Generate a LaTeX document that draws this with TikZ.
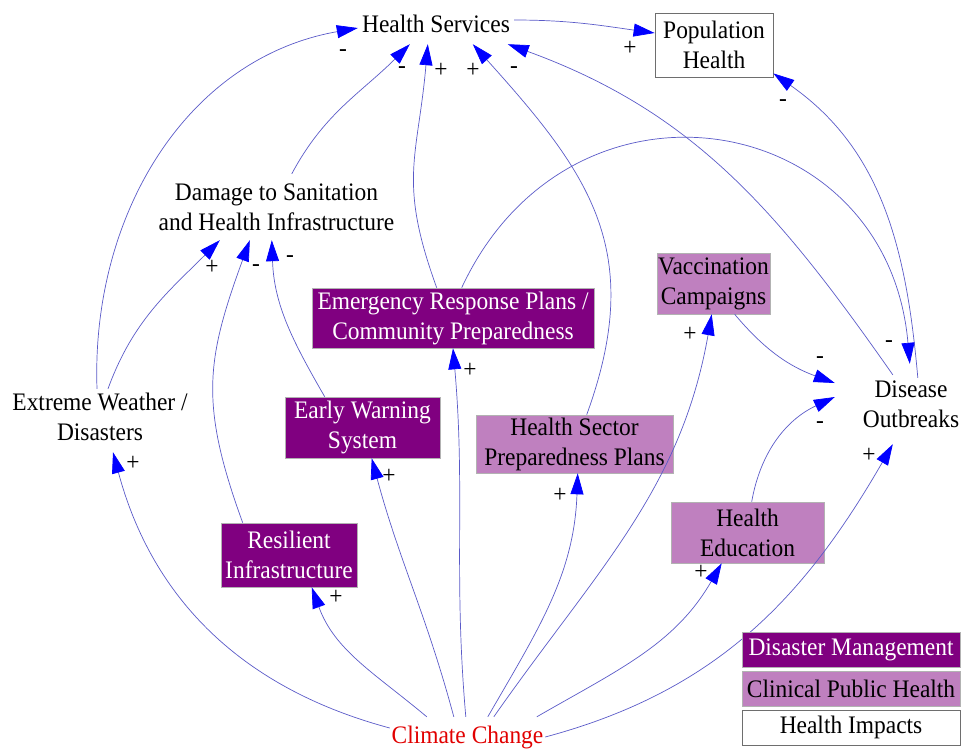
\documentclass[tikz,border=0pt]{standalone}
\usepackage{fontspec}
\setmainfont{Liberation Serif}[FakeStretch=0.93]
\usetikzlibrary{arrows.meta}
\definecolor{dmpurple}{RGB}{128,0,128}
\definecolor{cphpurple}{RGB}{191,128,191}
\definecolor{linkblue}{RGB}{90,90,200}
\definecolor{tipblue}{RGB}{0,0,255}
\definecolor{ccred}{RGB}{225,0,0}
\definecolor{boxgray}{RGB}{110,110,110}
\begin{document}
\begin{tikzpicture}[x=1pt,y=1pt,
  every node/.style={font=\fontsize{25.2}{30}\selectfont, align=center, inner sep=0pt},
  plain/.style={},
  impact/.style={draw=boxgray, line width=0.8pt, fill=white},
  disaster/.style={fill=dmpurple, draw=gray!60, line width=0.6pt, text=white},
  clinical/.style={fill=cphpurple, draw=gray!60, line width=0.6pt, text=black},
  link/.style={draw=linkblue, line width=0.7pt,
    -{Triangle[length=21pt,width=13pt,fill=tipblue,color=tipblue]}},
  pol/.style={}
]
\useasboundingbox (0,0) rectangle (963,-748);

% variables of the causal loop diagram
\node[plain, minimum width=156pt, minimum height=40pt] (hs) at (436,-24) {Health Services};
\node[impact, minimum width=118pt, minimum height=64pt] (ph) at (714,-45) {Population\\Health};
\node[plain, minimum width=243pt, minimum height=66pt] (dmg) at (276.5,-207) {Damage to Sanitation\\and Health Infrastructure};
\node[plain, minimum width=184pt, minimum height=55pt] (ew) at (100,-416.5) {Extreme Weather /\\Disasters};
\node[disaster, minimum width=282pt, minimum height=60pt] (erp) at (453,-318) {Emergency Response Plans /\\Community Preparedness};
\node[disaster, minimum width=155pt, minimum height=61pt] (ews) at (362.5,-427.5) {Early Warning\\System};
\node[clinical, minimum width=113pt, minimum height=61pt] (vc) at (713.5,-283.5) {Vaccination\\Campaigns};
\node[plain, minimum width=152pt, minimum height=80pt] (do) at (911,-404) {Disease\\Outbreaks};
\node[clinical, minimum width=197pt, minimum height=58pt] (hsp) at (574.5,-444) {Health Sector\\Preparedness Plans};
\node[clinical, minimum width=153pt, minimum height=61pt] (he) at (747.5,-532.5) {Health\\Education};
\node[disaster, minimum width=136pt, minimum height=64pt] (ri) at (289,-555) {Resilient\\Infrastructure};
\node[plain, text=ccred, minimum width=155pt, minimum height=40pt] (cc) at (467.5,-737) {Climate Change};

% causal links
\draw[link] ([xshift=-3pt]ew.north) to[out=92,in=190] ([yshift=-4pt]hs.west);
\draw[link] ([xshift=8pt]ew.north) to[out=70,in=225] ([xshift=65pt]dmg.south west);
\draw[link] ([xshift=22pt]ri.north west) to[out=110,in=250,looseness=1.15] ([xshift=95pt]dmg.south west);
\draw[link] ([xshift=40pt]ews.north west) to[out=120,in=272] ([xshift=117pt]dmg.south west);
\draw[link] ([xshift=137pt]dmg.north west) to[out=62,in=225] ([xshift=52pt]hs.south west);
\draw[link] ([xshift=125pt]erp.north west) to[out=110,in=265,looseness=1.2] ([xshift=70pt]hs.south west);
\draw[link] ([xshift=111pt]hsp.north west) to[out=70,in=-48,looseness=1.15] ([xshift=115pt]hs.south west);
\draw[link] ([xshift=58pt,yshift=-11pt]do.north west) to[out=125,in=-20] ([xshift=150pt]hs.south west);
\draw[link] ([yshift=4pt]hs.east) to[out=0,in=172] ([yshift=12pt]ph.west);
\draw[link] ([xshift=83pt,yshift=-14pt]do.north west) to[out=95,in=-35] ([yshift=4pt]ph.south east);
\draw[link] ([xshift=150pt]erp.north west) to[out=65,in=95,looseness=1.45] ([xshift=75pt]do.north west);
\draw[link] ([yshift=9pt]cc.west) to[out=165,in=-75] ([xshift=13pt,yshift=-8pt]ew.south);
\draw[link] ([xshift=37pt]cc.north west) to[out=140,in=-70] ([xshift=91pt]ri.south west);
\draw[link] ([xshift=64pt]cc.north west) to[out=105,in=-75] ([xshift=87pt]ews.south west);
\draw[link] ([xshift=76pt]cc.north west) to[out=95,in=-85] (erp.south);
\draw[link] ([xshift=98pt]cc.north west) to[out=60,in=-92] ([xshift=102pt]hsp.south west);
\draw[link] ([xshift=104pt]cc.north west) to[out=55,in=-100] ([xshift=55pt]vc.south west);
\draw[link] ([xshift=147pt]cc.north west) to[out=30,in=-120] ([xshift=51pt]he.south west);
\draw[link] (cc.east) to[out=15,in=-120] ([xshift=58pt]do.south west);
\draw[link] ([xshift=78pt]vc.south west) to[out=-50,in=160] ([yshift=21pt]do.west);
\draw[link] ([xshift=81pt]he.north west) to[out=80,in=205] ([yshift=7pt]do.west);

% link polarities
\node[pol] (l1) at (343,-53) {-};
\node[pol] (l2) at (212,-267) {+};
\node[pol] (l3) at (256,-268) {-};
\node[pol] (l4) at (290,-259) {-};
\node[pol] (l5) at (402,-70) {-};
\node[pol] (l6) at (441,-70) {+};
\node[pol] (l7) at (473,-70) {+};
\node[pol] (l8) at (514,-70) {-};
\node[pol] (l9) at (630,-48) {+};
\node[pol] (l10) at (783,-103) {-};
\node[pol] (l11) at (889,-344) {-};
\node[pol] (l12) at (133,-463) {+};
\node[pol] (l13) at (336,-597) {+};
\node[pol] (l14) at (389,-476) {+};
\node[pol] (l15) at (470,-370) {+};
\node[pol] (l16) at (560,-495) {+};
\node[pol] (l17) at (690,-334) {+};
\node[pol] (l18) at (701,-572) {+};
\node[pol] (l19) at (869,-455) {+};
\node[pol] (l20) at (820,-360) {-};
\node[pol] (l21) at (820,-425) {-};

% legend
\node[disaster, minimum width=218pt, minimum height=35pt] (lgdm) at (851,-649.5) {Disaster Management};
\node[clinical, minimum width=218pt, minimum height=35pt] (lgcph) at (851,-688.5) {Clinical Public Health};
\node[impact, minimum width=218pt, minimum height=35pt] (lghi) at (851,-727.5) {Health Impacts};
\end{tikzpicture}
\end{document}
